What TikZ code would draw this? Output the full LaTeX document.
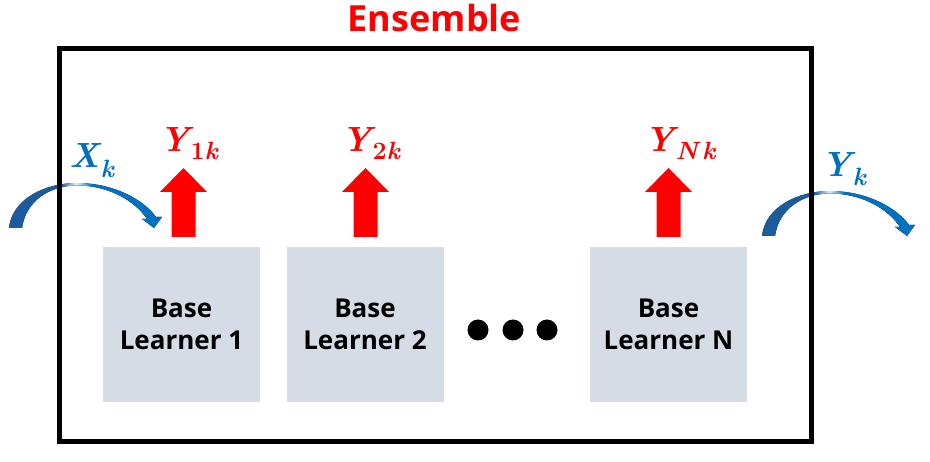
\documentclass[tikz,border=0pt]{standalone}
\usepackage{fontspec}
\newfontfamily\osans{Open Sans}
\definecolor{ensred}{RGB}{255,0,0}
\definecolor{xblue}{RGB}{0,112,192}
\definecolor{arcdark}{RGB}{28,92,156}
\definecolor{boxgray}{RGB}{214,220,229}
\colorlet{arcfade}{xblue!12}
\pgfdeclarehorizontalshading{arcshade}{100bp}{color(0bp)=(arcdark); color(25bp)=(arcdark); color(42bp)=(arcdark); color(47bp)=(arcfade); color(52bp)=(xblue); color(75bp)=(xblue); color(100bp)=(xblue)}
\newcommand\mysublab[3]{{\bfseries\itshape #1}\kern1pt\raisebox{-#3}{\fontsize{25}{28}\selectfont\bfseries\itshape #2}}
\tikzset{
  lbox/.style={draw=none, fill=boxgray, minimum width=157pt, minimum height=155pt, inner sep=0pt,
    align=center, font=\osans\bfseries\fontsize{26}{32}\selectfont, text=black},
  frame/.style={draw=black, line width=5pt, minimum width=752pt, minimum height=393.5pt, inner sep=0pt},
  dot/.style={circle, fill=black, minimum size=21pt, inner sep=0pt},
  redlab/.style={text=ensred, inner sep=0pt, font=\fontsize{35}{40}\selectfont},
  bluelab/.style={text=xblue, inner sep=0pt, font=\fontsize{35}{40}\selectfont},
  uparrow/.style={fill=ensred},
  arcarrow/.style={shading=arcshade}
}
\begin{document}
\begin{tikzpicture}[x=1pt,y=-1pt]
\useasboundingbox (0,0) rectangle (930,462);
\fill[white] (0,0) rectangle (930,462);
% curved blue arrows (under the frame)
\coordinate (xa) at (9,228);
\coordinate (ya) at (762,236);
\foreach \c in {xa,ya}{
\fill[arcarrow, shift={(\c)}] (0,0) .. controls (3,-29) and (36,-45) .. (68,-45)
  .. controls (105,-45) and (135,-28) .. (147,-11)
  -- (153,-11) -- (145,0) -- (133,-9) -- (138,-9)
  .. controls (126,-27) and (100,-42.5) .. (68,-42.5)
  .. controls (42,-42.5) and (17,-28) .. (13,0) -- cycle;
}
% frame
\node[frame] (ens) at (435.5,245.25) {};
\node[text=ensred, font=\osans\bfseries\fontsize{36}{40}\selectfont, inner sep=0pt, anchor=base] (title) at (434.5,32) {Ensemble};
% learners
\node[lbox] (b1) at (181.5,324.5) {Base\\Learner 1};
\node[lbox] (b2) at (365,324.5) {Base\\Learner 2};
\node[lbox] (bn) at (668.5,324.5) {Base\\Learner N};
% dots
\node[dot] (d1) at (478,330) {};
\node[dot] (d2) at (513,330) {};
\node[dot] (d3) at (547,330) {};
% red up arrows
\coordinate (a1) at (183.5,237);
\coordinate (a2) at (365.5,237);
\coordinate (an) at (668.5,237);
\foreach \c in {a1,a2,an}{
\fill[uparrow, shift={(\c)}] (-12,0) -- (-12,-45) -- (-23.5,-45) -- (0,-69) -- (23.5,-45) -- (12,-45) -- (12,0) -- cycle;
}
% labels
\node[redlab, anchor=base west] (y1) at (159,152) {\mysublab{Y}{\upshape1\itshape k}{8pt}};
\node[redlab, anchor=base west] (y2) at (341,152) {\mysublab{Y}{\upshape2\itshape k}{8pt}};
\node[redlab, anchor=base west] (yn) at (644,152) {\mysublab{Y}{N\,k}{8pt}};
\node[bluelab, anchor=base west] (xk) at (69,168) {\mysublab{X}{k}{10pt}};
\node[bluelab, anchor=base west] (yk) at (821,177) {\mysublab{Y}{k}{9pt}};
\end{tikzpicture}
\end{document}
